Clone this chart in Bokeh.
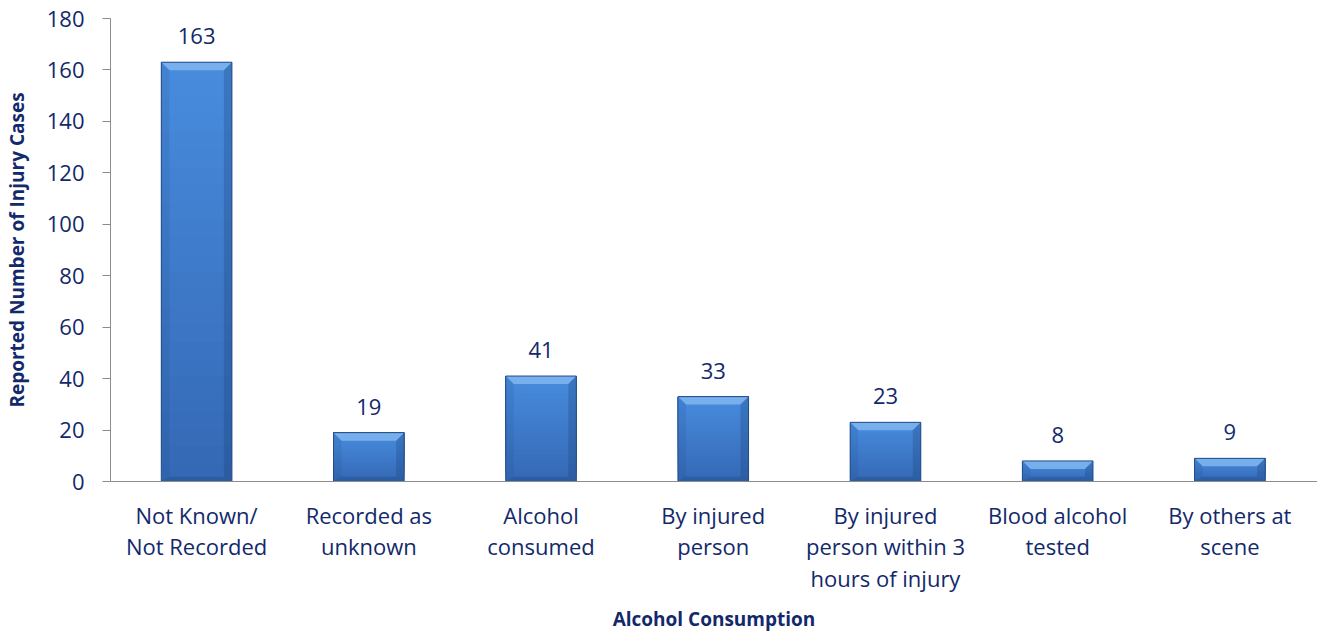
from bokeh.plotting import figure
from bokeh.models import Range1d, FixedTicker, ColumnDataSource
from bokeh.embed import file_html
from bokeh.resources import INLINE
from bokeh.core.properties import value

categories = ["Not Known/\nNot Recorded", "Recorded as\nunknown", "Alcohol\nconsumed",
              "By injured\nperson", "By injured\nperson within 3\nhours of injury",
              "Blood alcohol\ntested", "By others at\nscene"]
cases = [163, 19, 41, 33, 23, 8, 9]
y_ticks = [0, 20, 40, 60, 80, 100, 120, 140, 160, 180]
x_title = "Alcohol Consumption"
y_title = "Reported Number of Injury Cases"

FONT = "Open Sans"
NAVY = "#12296B"
AXIS = "#8C8C8C"

W, H = 1317, 635
LEFT, TOP = 108, 18
BOTTOM = H - 481
FRAME_W = W - LEFT
FRAME_H = H - TOP - BOTTOM
X0 = -0.5
X1 = X0 + FRAME_W / 172.5
Y1 = 180

p = figure(width=W, height=H, x_range=Range1d(X0, X1), y_range=Range1d(0, Y1),
           output_backend="svg", toolbar_location=None,
           min_border_left=LEFT, min_border_top=TOP, min_border_right=0,
           min_border_bottom=BOTTOM)
p.outline_line_color = None
p.xgrid.visible = False
p.ygrid.visible = False

# pixel -> data conversions for bevel styling
px_x = (X1 - X0) / FRAME_W
px_y = Y1 / FRAME_H
half = 0.205
bev = 8

xs_idx = list(range(len(cases)))

# body gradient (dark bottom -> light top), stacked so there are no seams
N = 24
c_bot = (0x34, 0x68, 0xB4)
c_top = (0x48, 0x8C, 0xDE)
left_, right_, bottom_, top_, colors = [], [], [], [], []
for k in range(N):
    t = (k + 0.5) / N
    c = tuple(int(round(a + (b - a) * t)) for a, b in zip(c_bot, c_top))
    for i, v in zip(xs_idx, cases):
        left_.append(i - half)
        right_.append(i + half)
        bottom_.append(v * k / N)
        top_.append(v)
        colors.append("#%02x%02x%02x" % c)
p.quad(left=left_, right=right_, bottom=bottom_, top=top_, fill_color=colors,
       line_color=None)

# bevel patches
bx, by = bev * px_x, bev * px_y
top_xs, top_ys, l_xs, l_ys, r_xs, r_ys, b_xs, b_ys = [], [], [], [], [], [], [], []
for i, v in zip(xs_idx, cases):
    x0, x1 = i - half, i + half
    byy = min(by, v / 2.5)
    top_xs.append([x0, x1, x1 - bx, x0 + bx])
    top_ys.append([v, v, v - byy, v - byy])
    l_xs.append([x0, x0 + bx, x0 + bx, x0])
    l_ys.append([0, byy * 0.6, v - byy, v])
    r_xs.append([x1, x1 - bx, x1 - bx, x1])
    r_ys.append([0, byy * 0.6, v - byy, v])
    b_xs.append([x0, x1, x1 - bx, x0 + bx])
    b_ys.append([0, 0, byy * 0.6, byy * 0.6])
p.patches(top_xs, top_ys, fill_color="#80B6EF", fill_alpha=0.85, line_color=None)
p.patches(l_xs, l_ys, fill_color="#1A3F78", fill_alpha=0.12, line_color=None)
p.patches(r_xs, r_ys, fill_color="#1A3F78", fill_alpha=0.28, line_color=None)
p.patches(b_xs, b_ys, fill_color="#1A3F78", fill_alpha=0.3, line_color=None)
p.quad(left=[i - half for i in xs_idx], right=[i + half for i in xs_idx],
       bottom=0, top=cases, fill_color=None, line_color="#254C86", line_width=1)

# value labels
src = ColumnDataSource(dict(x=xs_idx, y=cases, t=[str(v) for v in cases]))
p.text(x="x", y="y", text="t", source=src, text_align="center",
       text_baseline="middle", y_offset=-26, text_font=value(FONT),
       text_font_size="22px", text_color=NAVY)

# axes
xa = p.xaxis[0]
xa.ticker = FixedTicker(ticks=xs_idx)
xa.major_label_overrides = {i: c for i, c in zip(xs_idx, categories)}
xa.major_tick_out = 0
xa.major_tick_in = 0
xa.minor_tick_out = 0
xa.minor_tick_in = 0
xa.axis_line_color = AXIS
xa.major_label_text_font = FONT
xa.major_label_text_font_size = "22px"
xa.major_label_text_color = NAVY
xa.major_label_text_line_height = 1.05
xa.major_label_standoff = 18
xa.axis_label = x_title
xa.axis_label_text_font = FONT
xa.axis_label_text_font_size = "19px"
xa.axis_label_text_font_style = "bold"
xa.axis_label_text_color = NAVY
xa.axis_label_standoff = 10

ya = p.yaxis[0]
ya.ticker = FixedTicker(ticks=y_ticks)
ya.major_tick_out = 8
ya.major_tick_in = 0
ya.minor_tick_out = 0
ya.minor_tick_in = 0
ya.axis_line_color = AXIS
ya.major_tick_line_color = AXIS
ya.major_label_text_font = FONT
ya.major_label_text_font_size = "22px"
ya.major_label_text_color = NAVY
ya.major_label_standoff = 18
ya.axis_label = y_title
ya.axis_label_text_font = FONT
ya.axis_label_text_font_size = "19px"
ya.axis_label_text_font_style = "bold"
ya.axis_label_text_color = NAVY
ya.axis_label_standoff = 14

open("out.html", "w").write(file_html(p, INLINE))
